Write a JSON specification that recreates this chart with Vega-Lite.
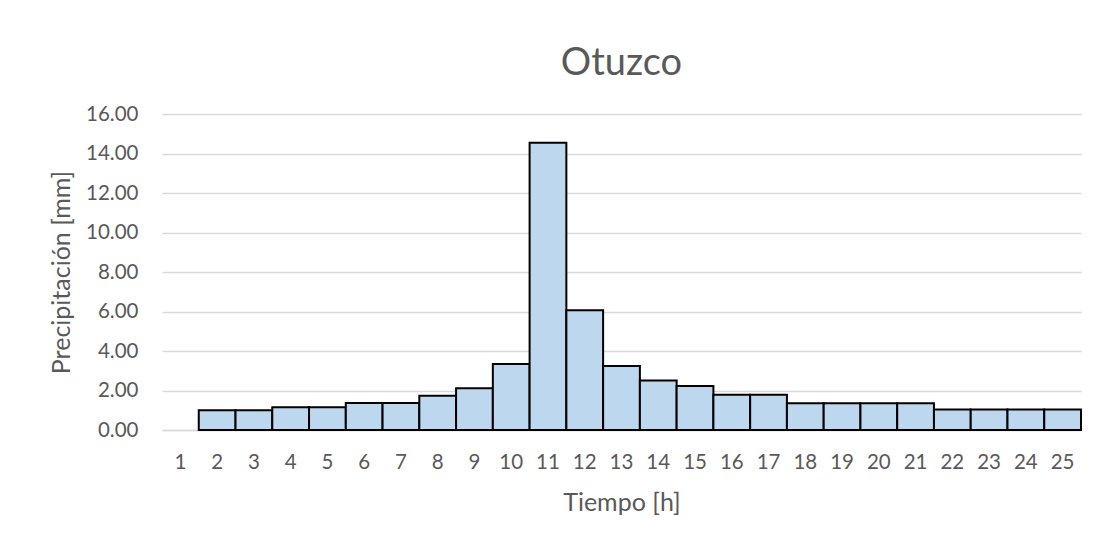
{
  "$schema": "https://vega.github.io/schema/vega-lite/v6.json",
  "autosize": "none",
  "width": 919,
  "height": 316,
  "padding": {"left": 162, "top": 114, "right": 17, "bottom": 109},
  "background": "white",
  "title": {
    "text": "Otuzco",
    "font": "Lato",
    "fontSize": 38,
    "fontWeight": "normal",
    "color": "#595959",
    "anchor": "middle",
    "offset": 21
  },
  "data": {
    "values": [
      {"hora": 2, "precip": 1.0},
      {"hora": 3, "precip": 1.0},
      {"hora": 4, "precip": 1.15},
      {"hora": 5, "precip": 1.15},
      {"hora": 6, "precip": 1.37},
      {"hora": 7, "precip": 1.37},
      {"hora": 8, "precip": 1.73},
      {"hora": 9, "precip": 2.12},
      {"hora": 10, "precip": 3.34},
      {"hora": 11, "precip": 14.55},
      {"hora": 12, "precip": 6.06},
      {"hora": 13, "precip": 3.24},
      {"hora": 14, "precip": 2.51},
      {"hora": 15, "precip": 2.23},
      {"hora": 16, "precip": 1.78},
      {"hora": 17, "precip": 1.78},
      {"hora": 18, "precip": 1.36},
      {"hora": 19, "precip": 1.36},
      {"hora": 20, "precip": 1.36},
      {"hora": 21, "precip": 1.36},
      {"hora": 22, "precip": 1.04},
      {"hora": 23, "precip": 1.04},
      {"hora": 24, "precip": 1.04},
      {"hora": 25, "precip": 1.04}
    ]
  },
  "mark": {"type": "bar", "fill": "#BDD7EE", "stroke": "#000000", "strokeWidth": 2},
  "encoding": {
    "x": {
      "field": "hora",
      "type": "ordinal",
      "scale": {"domain": [1,2,3,4,5,6,7,8,9,10,11,12,13,14,15,16,17,18,19,20,21,22,23,24,25], "paddingInner": 0, "paddingOuter": 0},
      "axis": {
        "title": "Tiempo [h]",
        "labelAngle": 0,
        "ticks": false,
        "domainColor": "#d9d9d9",
        "domainWidth": 1.5,
        "labelPadding": 22,
        "titlePadding": 18
      }
    },
    "y": {
      "field": "precip",
      "type": "quantitative",
      "scale": {"domain": [0, 16], "nice": false},
      "axis": {
        "title": "Precipitación [mm]",
        "values": [0, 2, 4, 6, 8, 10, 12, 14, 16],
        "format": ".2f",
        "domain": false,
        "ticks": false,
        "gridColor": "#d9d9d9",
        "gridWidth": 1.5,
        "labelPadding": 24,
        "titlePadding": 11
      }
    }
  },
  "config": {
    "view": {"stroke": null},
    "axis": {
      "labelFont": "Lato",
      "labelFontSize": 20.5,
      "labelColor": "#595959",
      "titleFont": "Lato",
      "titleFontSize": 25,
      "titleFontWeight": "normal",
      "titleColor": "#595959"
    }
  }
}
